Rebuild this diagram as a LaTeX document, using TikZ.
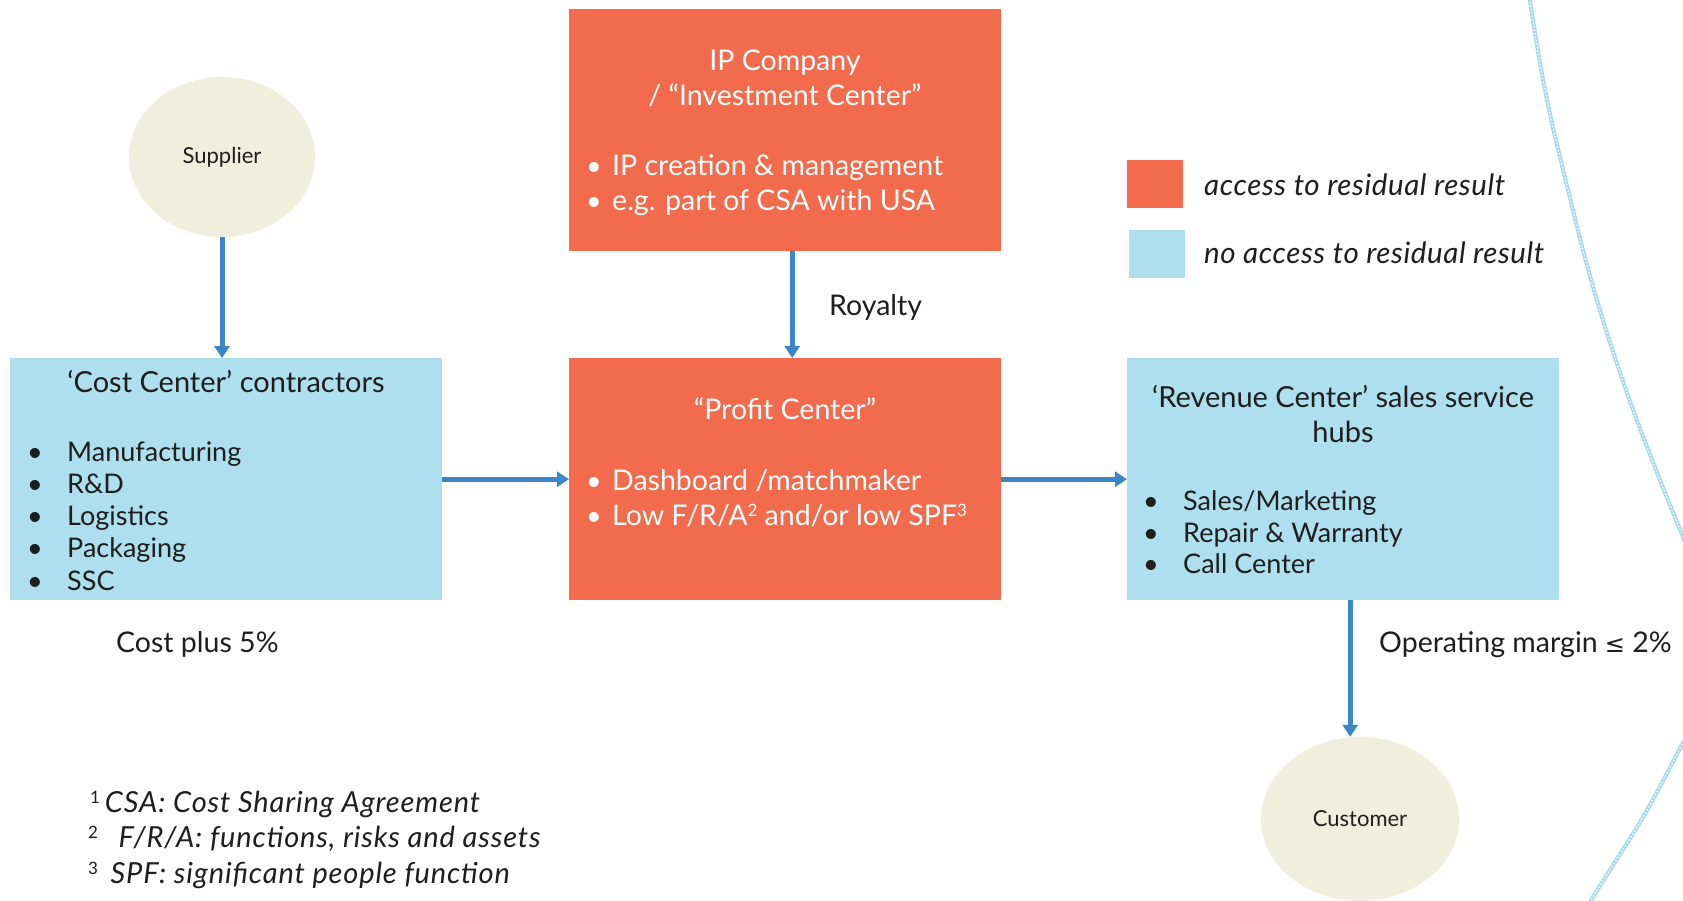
\documentclass[tikz,border=0pt]{standalone}
\usepackage{fontspec}
\setmainfont{Lato}
\newfontfamily\symfont{DejaVu Sans}
\newfontfamily\wideit{Lato}[LetterSpace=3]
\newfontfamily\legit{Lato}[LetterSpace=2]
\newcommand\supnum[1]{\raisebox{0.3em}{\fontsize{17}{17}\selectfont\upshape #1}}
\usetikzlibrary{arrows.meta,shapes.geometric}
\definecolor{orangebox}{HTML}{F16B4C}
\definecolor{bluebox}{HTML}{ADDFEE}
\definecolor{cream}{HTML}{F0EFDE}
\definecolor{arrowblue}{HTML}{3A86C8}
\definecolor{txt}{HTML}{1E1E1E}
\definecolor{curveblue}{HTML}{A6DAEE}
\begin{document}
\begin{tikzpicture}[x=1pt,y=-1pt,
  obox/.style={fill=orangebox, draw=none, anchor=north west, inner sep=0, minimum width=432, minimum height=242},
  bbox/.style={fill=bluebox, draw=none, anchor=north west, inner sep=0, minimum width=432, minimum height=242},
  legsq/.style={draw=none, anchor=north west, inner sep=0, minimum width=56, minimum height=48},
  ell/.style={ellipse, fill=cream, draw=none, inner sep=0, text=txt, font=\fontsize{22}{26}\selectfont},
  arr/.style={draw=arrowblue, line width=5pt, -{Triangle[width=15pt,length=12pt]}},
  wtitle/.style={font=\fontsize{28.5}{34}\selectfont, text=white, anchor=base, inner sep=0},
  ktitle/.style={font=\fontsize{29}{34}\selectfont, text=txt, anchor=base, inner sep=0},
  wbody/.style={font=\fontsize{28.5}{32}\selectfont, text=white, anchor=base west, inner sep=0},
  kbody/.style={font=\fontsize{27}{32}\selectfont, text=txt, anchor=base west, inner sep=0},
  lbody/.style={font=\fontsize{28.5}{32}\selectfont, text=txt, anchor=base west, inner sep=0},
  wdot/.style={font=\fontsize{27}{32}\selectfont, text=white, anchor=base, inner sep=0},
  kdot/.style={font=\fontsize{27}{32}\selectfont, text=txt, anchor=base, inner sep=0},
  ital/.style={font=\wideit\fontsize{29}{32}\selectfont\itshape, text=txt, anchor=base west, inner sep=0},
  legtext/.style={font=\legit\fontsize{29.5}{32}\selectfont\itshape, text=txt, anchor=base west, inner sep=0},
  curveline/.style={draw=curveblue, line width=4pt},
  curvetex/.style={draw=white, line width=1.2pt, dash pattern=on 1.5pt off 2pt}
]
\useasboundingbox (0,0) rectangle (1683,900);
\fill[white] (0,0) rectangle (1683,900);

% right side curves
\begin{scope}
\clip (0,0) rectangle (1683,900);
\draw[curveline] plot[smooth, tension=0.7] coordinates {(1528,-12) (1545,90) (1568,190) (1594,290) (1626,390) (1660,480) (1683,537) (1700,580)};
\draw[curvetex] plot[smooth, tension=0.7] coordinates {(1528,-12) (1545,90) (1568,190) (1594,290) (1626,390) (1660,480) (1683,537) (1700,580)};
\draw[curveline] plot[smooth, tension=0.7] coordinates {(1705,705) (1683,743) (1643,817) (1593,897) (1588,910)};
\draw[curvetex] plot[smooth, tension=0.7] coordinates {(1705,705) (1683,743) (1643,817) (1593,897) (1588,910)};
\end{scope}

% boxes
\node[obox] (ip) at (569,9) {};
\node[obox] (pc) at (569,358) {};
\node[bbox] (cost) at (10,358) {};
\node[bbox] (rev) at (1127,358) {};

% ellipses
\node[ell, minimum width=186, minimum height=160] (sup) at (222,157) {Supplier};
\node[ell, minimum width=198, minimum height=164] (cust) at (1360,819) {Customer};

% legend
\node[legsq, fill=orangebox] (leg1) at (1127,160) {};
\node[legsq, fill=bluebox] (leg2) at (1129,230) {};
\node[legtext] (leg1t) at (1204,195) {access to residual result};
\node[legtext] (leg2t) at (1204,263) {no access to residual result};

% IP company text
\node[wtitle] (ipt1) at (785,70) {IP Company};
\node[wtitle] (ipt2) at (785,105) {/ “Investment Center”};
\node[wdot] (ipd1) at (594,175) {•};
\node[wbody] (ipb1) at (612,175) {IP creation \& management};
\node[wdot] (ipd2) at (594,210) {•};
\node[wbody] (ipb2) at (612,210) {e.g. part of CSA with USA};

% Profit center text
\node[wtitle] (pct) at (785,419) {“Profit Center”};
\node[wdot] (pcd1) at (594,490) {•};
\node[wbody] (pcb1) at (612,490) {Dashboard /matchmaker};
\node[wdot] (pcd2) at (594,525) {•};
\node[wbody] (pcb2) at (612,525) {Low F/R/A\supnum{2} and/or low SPF\supnum{3}};

% Cost center text
\node[ktitle] (costt) at (226,392) {‘Cost Center’ contractors};
\node[kdot] (cd1) at (35,461) {•};
\node[kbody] (cb1) at (67,461) {Manufacturing};
\node[kdot] (cd2) at (35,493) {•};
\node[kbody] (cb2) at (67,493) {R\&D};
\node[kdot] (cd3) at (35,525) {•};
\node[kbody] (cb3) at (67,525) {Logistics};
\node[kdot] (cd4) at (35,557) {•};
\node[kbody] (cb4) at (67,557) {Packaging};
\node[kdot] (cd5) at (35,590) {•};
\node[kbody] (cb5) at (67,590) {SSC};

% Revenue center text
\node[ktitle] (revt1) at (1343,407) {‘Revenue Center’ sales service};
\node[ktitle] (revt2) at (1343,442) {hubs};
\node[kdot] (rd1) at (1151,510) {•};
\node[kbody] (rb1) at (1183,510) {Sales/Marketing};
\node[kdot] (rd2) at (1151,542) {•};
\node[kbody] (rb2) at (1183,542) {Repair \& Warranty};
\node[kdot] (rd3) at (1151,573) {•};
\node[kbody] (rb3) at (1183,573) {Call Center};

% labels
\node[lbody] (roy) at (829,315) {Royalty};
\node[lbody] (cp) at (116,652) {Cost plus 5\%};
\node[lbody] (om) at (1379,652) {Operating margin {\symfont\fontsize{24}{28}\selectfont ≤} 2\%};

% footnotes
\node[ital] (fn1) at (90,812) {\supnum{1}\,CSA: Cost Sharing Agreement};
\node[ital] (fn2) at (88,847) {\supnum{2}\;\, F/R/A: functions, risks and assets};
\node[ital] (fn3) at (88,883) {\supnum{3}\, SPF: significant people function};

% arrows
\draw[arr] (sup.south) -- (sup.south |- cost.north);
\draw[arr] ([xshift=7pt]ip.south) -- ([xshift=7pt]pc.north);
\draw[arr] (cost.east) -- (pc.west);
\draw[arr] (pc.east) -- (rev.west);
\draw[arr] ([xshift=7pt]rev.south) -- ([xshift=7pt]rev.south |- cust.north);
\end{tikzpicture}
\end{document}
